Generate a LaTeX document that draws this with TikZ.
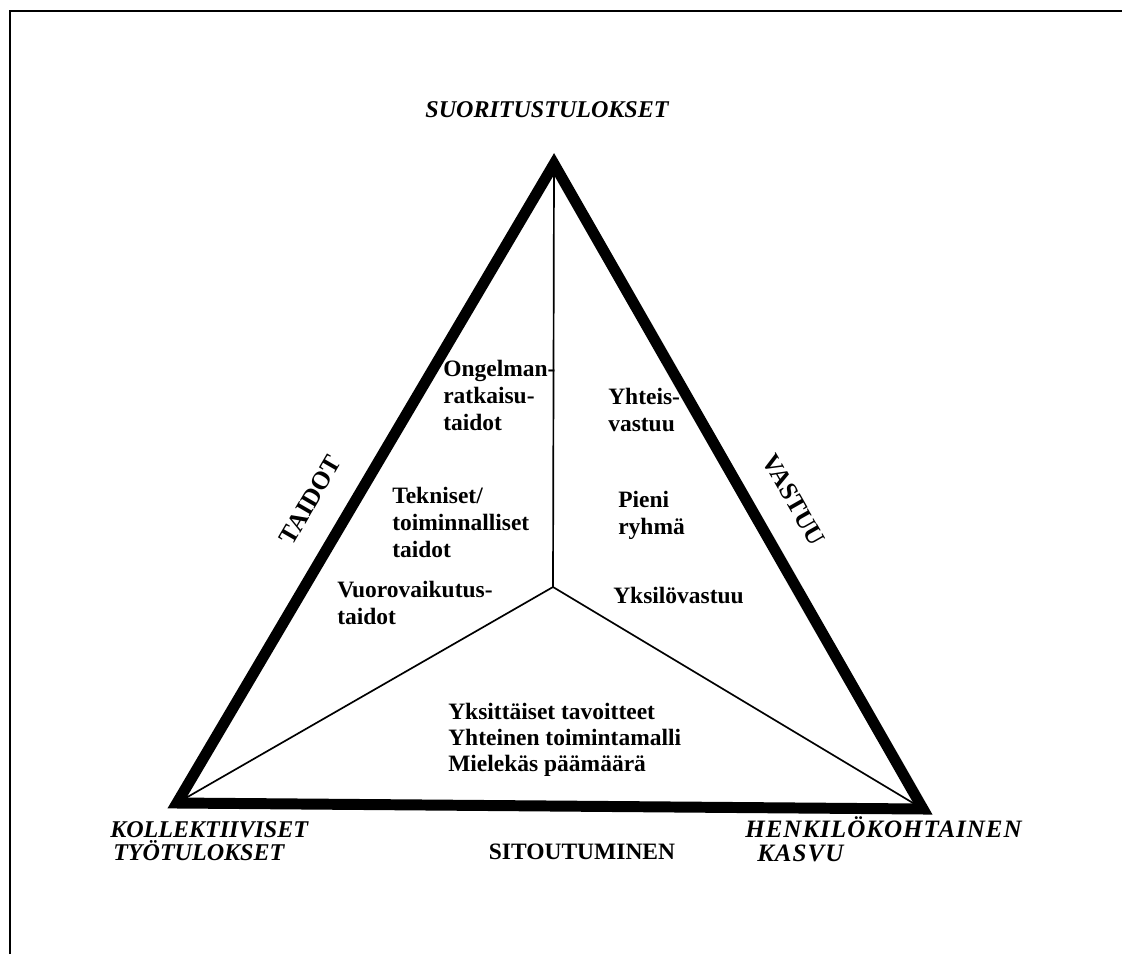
\documentclass[tikz,border=0pt]{standalone}
\usepackage{fontspec}
\setmainfont{Liberation Serif}
\begin{document}
\begin{tikzpicture}[x=0.025cm,y=-0.025cm,
  body/.style={font=\fontsize{16.7}{19}\selectfont\bfseries, inner sep=0pt, anchor=base west},
  bodyc/.style={font=\fontsize{16.7}{19}\selectfont\bfseries, inner sep=0pt, anchor=base},
  ital/.style={font=\fontsize{17.1}{20}\selectfont\bfseries\itshape, inner sep=0pt, anchor=base west},
  italc/.style={font=\fontsize{17.1}{20}\selectfont\bfseries\itshape, inner sep=0pt, anchor=base},
  italw/.style={font=\fontsize{17.8}{20}\selectfont\bfseries\itshape\addfontfeature{LetterSpace=4}, inner sep=0pt, anchor=base west},
  side/.style={font=\fontsize{18}{20}\selectfont\bfseries, inner sep=0pt, anchor=center},
  thickedge/.style={line width=7.8pt, line join=miter, miter limit=10},
  thinedge/.style={line width=1.2pt},
  frameline/.style={line width=1.8pt}]
\path[use as bounding box] (0,0) rectangle (1122,954);

% frame (top and left only)
\coordinate (F1) at (10,954);
\coordinate (F2) at (10,11);
\coordinate (F3) at (1122,11);
\draw[frameline] (F1) -- (F2) -- (F3);

% triangle
\coordinate (A) at (554,164);
\coordinate (B) at (177,803);
\coordinate (C) at (923,809);
\coordinate (O) at (553,587);

\draw[thinedge] (A) -- (O);
\draw[thinedge] (O) -- (B);
\draw[thinedge] (O) -- (C);
\draw[thickedge] (A) -- (B) -- (C) -- cycle;

% corner labels
\node[italc] (top) at (547,117) {SUORITUSTULOKSET};
\node[ital] (bl1) at (110,837) {KOLLEKTIIVISET};
\node[ital] (bl2) at (113,860) {TYÖTULOKSET};
\node[italw] (br1) at (745,837) {HENKILÖKOHTAINEN};
\node[italw] (br2) at (757,861) {KASVU};
\node[bodyc] (sit) at (582,859) {SITOUTUMINEN};

% side labels
\node[side, rotate=59.8] (taidot) at (310,500) {TAIDOT};
\node[side, rotate=-60.4] (vastuu) at (794,500) {VASTUU};

% left sector
\node[body] (o1) at (443,376) {Ongelman-};
\node[body] (o2) at (443,403) {ratkaisu-};
\node[body] (o3) at (443,430) {taidot};
\node[body] (t1) at (392,503) {Tekniset/};
\node[body] (t2) at (392,530) {toiminnalliset};
\node[body] (t3) at (392,557) {taidot};
\node[body] (v1) at (337,597) {Vuorovaikutus-};
\node[body] (v2) at (337,624) {taidot};

% right sector
\node[body] (y1) at (608,404) {Yhteis-};
\node[body] (y2) at (608,431) {vastuu};
\node[body] (p1) at (618,507) {Pieni};
\node[body] (p2) at (618,534) {ryhmä};
\node[body] (yk) at (613,603) {Yksilövastuu};

% bottom sector
\node[body] (b1) at (448,719) {Yksittäiset tavoitteet};
\node[body] (b2) at (448,745) {Yhteinen toimintamalli};
\node[body] (b3) at (448,771) {Mielekäs päämäärä};
\end{tikzpicture}
\end{document}
